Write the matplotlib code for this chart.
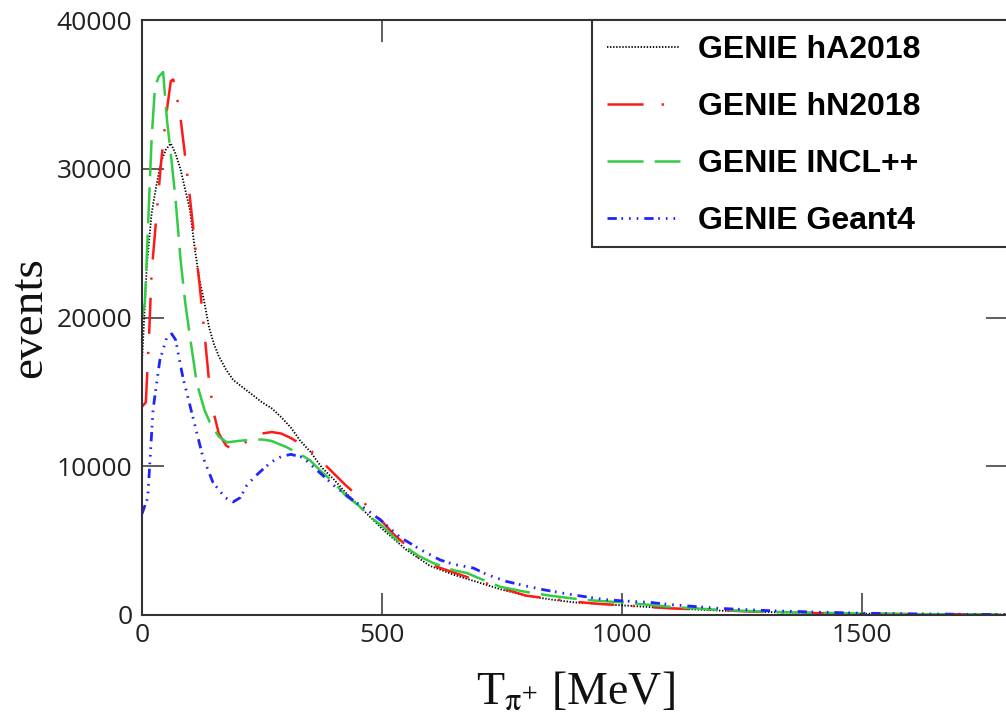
import matplotlib
matplotlib.use("Agg")
import matplotlib.pyplot as plt
from matplotlib.patches import Rectangle

# ---------------- data ----------------
t_ha = [0, 10, 20, 30, 40, 50, 60, 70, 80, 90, 100, 110, 120, 130, 140, 150, 160, 175, 190,
        210, 230, 250, 270, 290, 310, 330, 350, 375, 400, 425, 450, 475, 500, 550, 600, 650,
        700, 750, 800, 850, 900, 950, 1000, 1100, 1200, 1300, 1400, 1500, 1600, 1700, 1800]
ev_ha = [17000, 23500, 27000, 28900, 30500, 31300, 31700, 31000, 30000, 28600, 27200, 24600,
         22500, 21000, 19300, 18200, 17400, 16500, 15800, 15300, 14800, 14300, 13900, 13300,
         12600, 11700, 11000, 9900, 9100, 8200, 7400, 6600, 5800, 4400, 3300, 2700, 2200, 1700,
         1300, 1050, 850, 750, 650, 450, 300, 200, 130, 90, 60, 40, 30]

t_hn = [0, 8, 15, 20, 30, 40, 50, 60, 65, 70, 80, 90, 100, 110, 120, 130, 140, 150, 160, 175,
        190, 210, 230, 250, 270, 290, 310, 330, 350, 375, 400, 425, 450, 475, 500, 525, 550,
        575, 600, 650, 700, 750, 800, 850, 900, 950, 1000, 1100, 1200, 1300, 1400, 1500, 1600,
        1700, 1800]
ev_hn = [14000, 14300, 19000, 23000, 26800, 30500, 33500, 35900, 36000, 35300, 33500, 30800,
         28000, 25000, 22200, 19000, 15600, 13500, 12200, 11400, 11100, 11500, 11900, 12200,
         12300, 12200, 11900, 11500, 11100, 10300, 9500, 8700, 8000, 7100, 6300, 5400, 4700,
         3900, 3400, 2850, 2300, 1800, 1300, 1100, 900, 750, 650, 450, 320, 200, 130, 90, 60,
         40, 25]

t_incl = [0, 6, 12, 20, 27, 35, 44, 52, 62, 70, 80, 90, 100, 114, 130, 142, 160, 177, 200,
          220, 250, 270, 300, 330, 350, 375, 400, 425, 450, 475, 500, 537, 575, 606, 650, 677,
          700, 746, 800, 850, 900, 950, 1000, 1100, 1200, 1300, 1400, 1500, 1600, 1700, 1800]
ev_incl = [20000, 21000, 25700, 32000, 35500, 36200, 36500, 33300, 30400, 27900, 24000, 21000,
           18700, 15600, 13800, 12900, 12000, 11600, 11700, 11760, 11800, 11700, 11300, 10800,
           10400, 9600, 8900, 8000, 7400, 6600, 6000, 4840, 4000, 3500, 3000, 2820, 2500, 1900,
           1550, 1300, 1100, 950, 850, 550, 350, 220, 150, 100, 60, 40, 25]

t_g4 = [0, 12, 23, 37, 52, 62, 70, 85, 106, 127, 148, 173, 190, 205, 218, 235, 252, 270, 290,
        310, 335, 364, 400, 440, 469, 500, 537, 580, 621, 650, 690, 720, 760, 800, 836, 880,
        919, 960, 1000, 1058, 1100, 1200, 1300, 1400, 1500, 1600, 1700, 1800]
ev_g4 = [6800, 7900, 13800, 17100, 18700, 18900, 18500, 16000, 13300, 10600, 8900, 7900, 7600,
         7900, 8700, 9300, 9800, 10300, 10650, 10800, 10600, 9750, 8700, 7700, 7060, 6300, 5240,
         4400, 3700, 3400, 3160, 2700, 2250, 1950, 1700, 1450, 1250, 1050, 950, 850, 700, 450,
         300, 200, 120, 80, 50, 30]

labels = ["GENIE hA2018", "GENIE hN2018", "GENIE INCL++", "GENIE Geant4"]
x_ticks = [0, 500, 1000, 1500]
y_ticks = [0, 10000, 20000, 30000, 40000]

# ---------------- style ----------------
plt.rcParams['lines.scale_dashes'] = False
plt.rcParams['mathtext.fontset'] = 'stix'

W, H = 1006, 723
fig = plt.figure(figsize=(W / 100, H / 100), dpi=100)
ax = fig.add_axes([142 / W, 1 - 615 / H, 866 / W, 595 / H])

ax.plot(t_ha, ev_ha, color='black', lw=1.3, dashes=(1.0, 1.2), label=labels[0])
ax.plot(t_hn, ev_hn, color='#ff1a1a', lw=1.8, dashes=(26, 13, 1.6, 13), label=labels[1])
ax.plot(t_incl, ev_incl, color='#33cc44', lw=1.8, dashes=(26, 8), label=labels[2])
ax.plot(t_g4, ev_g4, color='#2222ff', lw=2.0,
        dashes=(6.7, 3.3, 1.2, 4.3, 1.2, 4.3, 1.2, 4.3), label=labels[3])

ax.set_xlim(0, 1804)
ax.set_ylim(0, 40000)
ax.set_xticks(x_ticks)
ax.set_yticks(y_ticks)
ax.minorticks_off()

for s in ax.spines.values():
    s.set_linewidth(1.5)
    s.set_color('#333333')

ax.tick_params(axis='both', which='major', direction='in', length=16, width=1.1,
               color='#333333', top=True, right=True, labelsize=19, labelcolor='#222222')
ax.tick_params(axis='y', pad=7)
ax.tick_params(axis='x', pad=6)
for lab in ax.get_xticklabels() + ax.get_yticklabels():
    lab.set_family('Open Sans')

ax.set_xlabel(r'T$_{\mathrm{\pi}^{+}}$ [MeV]', family='Liberation Serif', fontsize=33,
              labelpad=16, color='#111111')
ax.set_ylabel('events', family='Liberation Serif', fontsize=34, labelpad=4, color='#111111')

# legend frame (extends past the right edge, as in the reference)
frame = Rectangle((592 / W, 1 - 247 / H), 430 / W, 227 / H, transform=fig.transFigure,
                  facecolor='white', edgecolor='#333333', linewidth=1.5, clip_on=False,
                  zorder=4)
ax.add_patch(frame)

leg = ax.legend(loc='upper left', bbox_to_anchor=(592 / W, 1 - 20 / H),
                bbox_transform=fig.transFigure, borderaxespad=0, frameon=False,
                prop={'family': 'Liberation Sans', 'weight': 'bold', 'size': 23},
                handlelength=2.3, handletextpad=0.55, labelspacing=0.85,
                borderpad=0.47)
leg.set_zorder(5)

fig.savefig('out.png', dpi=100)
